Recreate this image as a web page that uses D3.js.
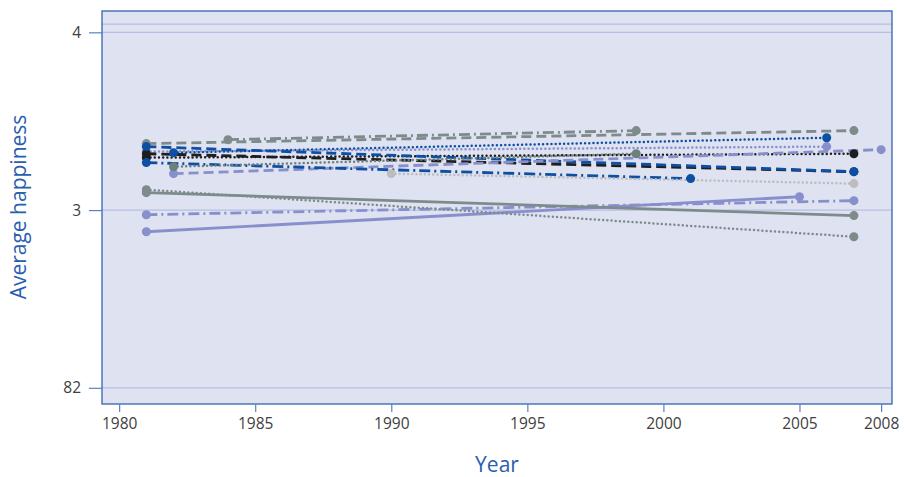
<!DOCTYPE html>
<html><head><meta charset="utf-8">
<script src="https://cdn.jsdelivr.net/npm/d3@7"></script>
<style>body{margin:0;background:#fff;}svg{display:block;font-family:"Open Sans",sans-serif;}</style>
</head><body><div id="chart"></div>
<script>
// ---- data ----
const seriesNames = ["A","B","C","D","E","F","G","H","I","J","K","L","M","N","O"];
const startYears = [1984,1981,1982,1981,1981,1981,1981,1982,1981,1982,1990,1981,1981,1981,1981];
const endYears   = [1999,2007,2006,2006,2007,2007,2007,2008,2001,1999,2007,2005,2007,2007,2007];
const startValues = [3.396,3.374,3.323,3.329,3.295,3.317,3.357,3.205,3.267,3.244,3.205,2.878,2.974,3.098,3.115];
const endValues   = [3.447,3.447,3.407,3.357,3.317,3.216,3.216,3.340,3.177,3.317,3.149,3.075,3.053,2.969,2.850];
const colorKeys = ["gray","gray","blue","lilac","black","black","blue","lilac","blue","dgray","lgray","lilac","lilac","gray","gray"];
const styleKeys = ["dashdot","dash","dot","dot","dot","dash","dash","dash","dashdot","dot","dot","solid","dashdot","solid","dot"];
const xTickValues = [1980,1985,1990,1995,2000,2005,2008];
const yTickValues = [2,3,4];
const yTickLabels = ["82","3","4"];
const gridValues = [2,3,4,4.046];

const palette = {gray:"#7e8b8b",blue:"#0c4fa3",lilac:"#8890cc",black:"#1e1e1e",dgray:"#6c807c",lgray:"#bdbdbd"};
const dashes = {solid:null,dash:"10,5",dot:"0,4.2",dashdot:"11,4,2,4"};
const widths = {solid:2.8,dash:2.8,dot:2.5,dashdot:2.8};

const W=904,H=477;
const m={left:102,right:12,top:11,bottom:73};
const svg=d3.select("#chart").append("svg").attr("width",W).attr("height",H);

const x=d3.scaleLinear().domain([1979.37,2008.4]).range([m.left,W-m.right]);
const y=d3.scaleLinear().domain([1.909,4.12]).range([H-m.bottom,m.top]);

svg.append("rect").attr("x",m.left).attr("y",m.top).attr("width",W-m.right-m.left).attr("height",H-m.bottom-m.top)
  .attr("fill","#dfe2f1");

svg.append("g").selectAll("line").data(gridValues).join("line")
  .attr("x1",m.left).attr("x2",W-m.right).attr("y1",d=>y(d)).attr("y2",d=>y(d))
  .attr("stroke","#b7bee3").attr("stroke-width",1.2);

const data = seriesNames.map((n,i)=>({name:n,pts:[{yr:startYears[i],v:startValues[i]},{yr:endYears[i],v:endValues[i]}],
  color:palette[colorKeys[i]],style:styleKeys[i]}));

const line=d3.line().x(d=>x(d.yr)).y(d=>y(d.v));
const g=svg.append("g");
data.forEach(s=>{
  g.append("path").datum(s.pts).attr("d",line).attr("fill","none")
    .attr("stroke",s.color).attr("stroke-width",widths[s.style])
    .attr("stroke-dasharray",dashes[s.style])
    .attr("stroke-linecap",s.style==="dot"?"round":"butt");
});
data.forEach(s=>{
  g.selectAll(null).data(s.pts).join("circle").attr("cx",d=>x(d.yr)).attr("cy",d=>y(d.v)).attr("r",4.5).attr("fill",s.color);
});

// frame
svg.append("rect").attr("x",m.left).attr("y",m.top).attr("width",W-m.right-m.left).attr("height",H-m.bottom-m.top)
  .attr("fill","none").attr("stroke","#3463b0").attr("stroke-width",1.3);

const xAxis=svg.append("g").attr("transform",`translate(0,${H-m.bottom})`)
  .call(d3.axisBottom(x).tickValues(xTickValues).tickFormat(d3.format("d")).tickSize(8).tickPadding(6));
const yAxis=svg.append("g").attr("transform",`translate(${m.left},0)`)
  .call(d3.axisLeft(y).tickValues(yTickValues).tickFormat((d,i)=>yTickLabels[i]).tickSize(13).tickPadding(8));
[xAxis,yAxis].forEach(a=>{
  a.select(".domain").remove();
  a.selectAll(".tick line").attr("stroke","#5a80c2").attr("stroke-width",1.2);
  a.selectAll(".tick text").attr("fill","#404040").attr("font-size",15.5).attr("font-family","'Open Sans',sans-serif");
});

svg.append("text").attr("x",497).attr("y",472).attr("text-anchor","middle")
  .attr("fill","#2a5eae").attr("font-size",21).text("Year");
svg.append("text").attr("transform","translate(26,207) rotate(-90)").attr("text-anchor","middle")
  .attr("fill","#2a5eae").attr("font-size",21).text("Average happiness");
</script></body></html>
